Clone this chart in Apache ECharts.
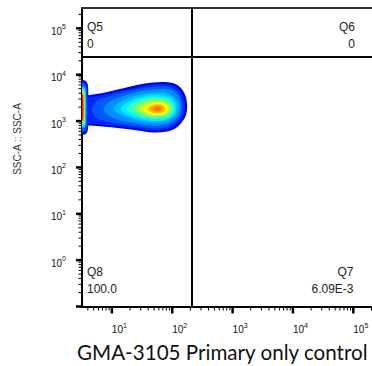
<!DOCTYPE html>
<html><head><meta charset="utf-8">
<script src="https://cdn.jsdelivr.net/npm/echarts@6/dist/echarts.min.js"></script>
<style>html,body{margin:0;padding:0;background:#fff}#c{width:372px;height:366px}</style>
</head><body><div id="c"></div>
<script>
// ---- axis ranges, gates, ticks ----
const X_RANGE = [3.2, 204000];
const Y_RANGE = [0.1, 275000];
const GATE_X = 209;
const GATE_Y = 24500;
const X_MAJOR = [10, 100, 1000, 10000, 100000];
const X_MINOR = [4,5,6,7,8,9, 20,30,40,50,60,70,80,90, 200,300,400,500,600,700,800,900,
  2000,3000,4000,5000,6000,7000,8000,9000, 20000,30000,40000,50000,60000,70000,80000,90000, 200000];
const Y_MAJOR = [0.1, 1, 10, 100, 1000, 10000, 100000];
const Y_MINOR = [0.2,0.3,0.4,0.5,0.6,0.7,0.8,0.9, 2,3,4,5,6,7,8,9, 20,30,40,50,60,70,80,90,
  200,300,400,500,600,700,800,900, 2000,3000,4000,5000,6000,7000,8000,9000,
  20000,30000,40000,50000,60000,70000,80000,90000, 200000];

// ---- quadrant statistics ----
const QUADRANTS = [
  {name: 'Q5', value: '0'},
  {name: 'Q6', value: '0'},
  {name: 'Q7', value: '6.09E-3'},
  {name: 'Q8', value: '100.0'}
];
const X_TITLE = 'GMA-3105 Primary only control';
const Y_TITLE = 'SSC-A :: SSC-A';

// ---- density contour levels (outer -> inner), [FL value, SSC-A value] ----
const BODY_L1 = [[3.43,3460],[4.32,3630],[7.09,4010],[13.6,4890],[26.0,5970],[47.9,6760],[75.7,6930],[107,6430],[139,5140],[166,3460],[177,2110],[169,1350],[145,952],[115,707],[81.7,594],[47.9,565],[27.0,624],[13.6,696],[7.09,761],[4.32,800],[3.43,800]];
const BODY_L2 = [[3.43,3130],[4.32,3290],[7.09,3630],[13.6,4430],[26.0,5400],[47.9,6120],[75.7,6270],[103,5820],[132,4660],[153,3290],[162,2110],[156,1420],[134,1000],[109,780],[78.6,656],[47.9,624],[27.0,689],[13.6,761],[7.09,841],[4.32,883],[3.43,883]];
const BODY_L3 = [[4.66,1730],[5.64,2700],[8.58,3370],[13.6,4010],[26.0,4890],[47.9,5540],[75.7,5680],[98.9,5270],[124,4220],[142,3050],[150,2110],[145,1450],[127,1080],[103,862],[75.7,724],[47.9,689],[27.0,761],[13.6,862],[8.26,976],[5.64,1160]];
const BODY_L4 = [[7.37,1730],[9.27,2630],[14.6,3370],[26.0,4220],[47.9,4770],[75.7,4890],[98.9,4540],[120,3730],[134,2840],[139,2050],[134,1490],[117,1130],[95.2,928],[70.1,820],[46.1,788],[27.0,862],[15.2,1000],[9.63,1220]];
const BODY_L5 = [[10.8,1770],[13.1,2500],[19.9,3210],[32.7,3820],[53.7,4110],[78.6,4010],[98.9,3540],[117,2840],[127,2110],[122,1560],[107,1220],[86.5,1030],[62.5,928],[41.1,928],[25.0,1050],[15.8,1280]];
const BODY_L6 = [[14.1,1810],[17.1,2440],[24.1,3050],[38.1,3540],[57.9,3670],[81.7,3460],[103,2910],[115,2210],[115,1640],[103,1280],[81.7,1080],[57.9,1000],[38.1,1030],[25.0,1160],[17.7,1380]];
const BODY_L7 = [[17.7,1810],[21.5,2380],[30.3,2910],[44.3,3240],[65.0,3240],[84.9,2980],[101,2500],[107,1950],[103,1520],[88.2,1250],[67.5,1130],[46.1,1120],[31.4,1220],[22.3,1450]];
const BODY_L8 = [[22.3,1810],[26.0,2270],[35.3,2700],[49.7,2950],[67.5,2910],[84.9,2590],[97.0,2160],[98.9,1770],[91.6,1450],[75.7,1250],[55.8,1200],[39.5,1250],[29.1,1420]];
const BODY_L9 = [[27.0,1810],[31.4,2270],[41.1,2570],[55.8,2720],[72.8,2630],[86.5,2320],[93.4,1910],[89.9,1560],[77.1,1350],[57.9,1270],[42.7,1310],[32.7,1490]];
const BODY_L10 = [[32.7,1810],[38.1,2210],[47.9,2470],[60.2,2530],[74.2,2380],[83.2,2070],[84.9,1770],[78.6,1510],[65.0,1370],[49.7,1360],[39.5,1450],[34.6,1600]];
const BODY_L11 = [[38.8,1830],[44.3,2160],[53.7,2300],[65.0,2270],[74.2,2050],[77.1,1810],[72.8,1580],[61.3,1470],[48.8,1490],[41.9,1620]];
const BODY_L12 = [[43.5,1850],[48.8,2070],[56.8,2150],[66.2,2050],[70.1,1860],[66.2,1660],[56.8,1580],[48.8,1630]];
const BODY_L13 = [[49.7,1860],[55.8,2000],[62.5,1950],[65.0,1830],[61.3,1710],[54.7,1700]];
// events piled up at the left edge of the FL axis
const EDGE_S1 = [[3.2,7650],[3.70,7280],[4.00,5970],[4.08,2700],[4.08,1280],[4.00,640],[3.70,524],[3.2,524]];
const EDGE_S2 = [[3.2,6590],[3.64,6270],[3.85,4890],[3.85,780],[3.64,609],[3.2,609]];
const EDGE_S3 = [[3.2,5400],[3.57,5140],[3.70,4010],[3.70,1000],[3.57,743],[3.2,743]];
const EDGE_S4 = [[3.2,4890],[3.50,4430],[3.57,3460],[3.57,1160],[3.50,862],[3.2,862]];
const EDGE_S5 = [[3.2,4430],[3.43,4010],[3.47,2700],[3.47,1280],[3.43,1000],[3.2,952]];
const EDGE_S6 = [[3.2,4010],[3.36,3460],[3.37,1100],[3.2,1000]];

// ---- styling ----
const FONT = '"Liberation Sans", Arial, sans-serif';
const LAYERS = [
  [EDGE_S1, '#0000f0', 0.3],
  [BODY_L1, '#0000f0', 0.35], [BODY_L2, '#0028ff', 0.35], [BODY_L3, '#0058ff', 0.35],
  [BODY_L4, '#0090ff', 0.35], [BODY_L5, '#00c0ff', 0.35], [BODY_L6, '#00eeff', 0.35],
  [BODY_L7, '#30ffc8', 0.35], [BODY_L8, '#70ff70', 0.35], [BODY_L9, '#b8ff30', 0.35],
  [BODY_L10, '#ffff00', 0.35], [BODY_L11, '#ffc000', 0.35], [BODY_L12, '#ff9000', 0.35],
  [BODY_L13, '#ff7000', 0.35],
  [EDGE_S2, '#0060ff', 0.3], [EDGE_S3, '#00e0ff', 0.3], [EDGE_S4, '#80ff40', 0.3],
  [EDGE_S5, '#ffd000', 0.3], [EDGE_S6, '#ff2000', 0.3]
];

function contourSeries(points, color, smooth) {
  return {
    type: 'custom', coordinateSystem: 'cartesian2d', clip: true, silent: true,
    data: points, encode: {x: 0, y: 1},
    renderItem: function (params, api) {
      if (params.dataIndex !== 0) return null;
      const pts = points.map(function (p) { return api.coord(p); });
      return {type: 'polygon', shape: {points: pts, smooth: smooth}, style: {fill: color}};
    }
  };
}

function tickSeries(values, axis, len, width) {
  const data = values.map(function (v) { return axis === 'x' ? [v, Y_RANGE[0]] : [X_RANGE[0], v]; });
  return {
    type: 'custom', coordinateSystem: 'cartesian2d', clip: false, silent: true, z: 6,
    data: data, encode: {x: 0, y: 1},
    renderItem: function (params, api) {
      const p = api.coord([api.value(0), api.value(1)]);
      const shape = axis === 'x'
        ? {x1: p[0], y1: p[1], x2: p[0], y2: p[1] + len}
        : {x1: p[0] - len, y1: p[1], x2: p[0], y2: p[1]};
      return {type: 'line', shape: shape, style: {stroke: '#000', lineWidth: width}};
    }
  };
}

function powLabel(v) {
  const e = Math.log10(v);
  const r = Math.round(e);
  if (Math.abs(e - r) > 1e-6) return '';
  return '{b|10}{s|' + r + '}';
}
const RICH = {
  b: {fontSize: 10, fontFamily: FONT, color: '#111', lineHeight: 13, verticalAlign: 'bottom'},
  s: {fontSize: 7, fontFamily: FONT, color: '#111', lineHeight: 7, verticalAlign: 'top'}
};

const series = LAYERS.map(function (l) { return contourSeries(l[0], l[1], l[2]); });
series[0].markLine = {
  silent: true, symbol: ['none', 'none'], label: {show: false}, animation: false,
  lineStyle: {color: '#000', width: 2, type: 'solid'},
  emphasis: {disabled: true},
  data: [{xAxis: GATE_X}, {yAxis: GATE_Y}]
};
series.push(tickSeries(X_MAJOR, 'x', 7, 2.5));
series.push(tickSeries(X_MINOR, 'x', 4, 1));
series.push(tickSeries(Y_MAJOR, 'y', 6, 2.5));
series.push(tickSeries(Y_MINOR, 'y', 3.5, 1));

const qText = function (txt, x, y, align) {
  return {type: 'text', x: x, y: y, silent: true,
    style: {text: txt, fill: '#222', font: '12px ' + FONT, align: align, verticalAlign: 'middle'}};
};

const option = {
  animation: false,
  backgroundColor: '#fff',
  grid: {left: 82, right: 0, top: 8, bottom: 59.5, containLabel: false},
  xAxis: [{
    type: 'log', logBase: 10, min: X_RANGE[0], max: X_RANGE[1],
    axisLine: {show: true, onZero: false, lineStyle: {color: '#000', width: 2}},
    axisTick: {show: false}, splitLine: {show: false}, minorTick: {show: false},
    axisLabel: {show: true, formatter: powLabel, rich: RICH, align: 'left', margin: 15,
      showMinLabel: false, showMaxLabel: false, hideOverlap: false}
  }, {
    type: 'log', logBase: 10, min: X_RANGE[0], max: X_RANGE[1], position: 'top',
    axisLine: {show: true, onZero: false, lineStyle: {color: '#333', width: 2}},
    axisTick: {show: false}, axisLabel: {show: false}, splitLine: {show: false}
  }],
  yAxis: {
    type: 'log', logBase: 10, min: Y_RANGE[0], max: Y_RANGE[1],
    axisLine: {show: true, onZero: false, lineStyle: {color: '#000', width: 2}},
    axisTick: {show: false}, splitLine: {show: false}, minorTick: {show: false},
    axisLabel: {show: true, formatter: powLabel, rich: RICH, margin: 16, padding: [3, 0, 0, 0],
      showMinLabel: false, showMaxLabel: false, hideOverlap: false}
  },
  graphic: [
    qText(QUADRANTS[0].name, 87, 27, 'left'), qText(QUADRANTS[0].value, 87, 44, 'left'),
    qText(QUADRANTS[1].name, 355, 27, 'right'), qText(QUADRANTS[1].value, 355, 44, 'right'),
    qText(QUADRANTS[2].name, 353.5, 271.5, 'right'), qText(QUADRANTS[2].value, 353.5, 289, 'right'),
    qText(QUADRANTS[3].name, 87, 271.5, 'left'), qText(QUADRANTS[3].value, 87, 288.5, 'left'),
    {type: 'text', x: 17.5, y: 139, rotation: Math.PI / 2, silent: true,
      style: {text: Y_TITLE, fill: '#333', font: '10px ' + FONT, align: 'center', verticalAlign: 'middle'}},
    {type: 'text', x: 77, y: 352, silent: true,
      style: {text: X_TITLE, fill: '#111', font: '20.6px Lato, "Open Sans", sans-serif', align: 'left', verticalAlign: 'middle'}}
  ],
  series: series
};

const chart = echarts.init(document.getElementById('c'), null, {renderer: 'svg'});
chart.setOption(option);
</script>
</body></html>
